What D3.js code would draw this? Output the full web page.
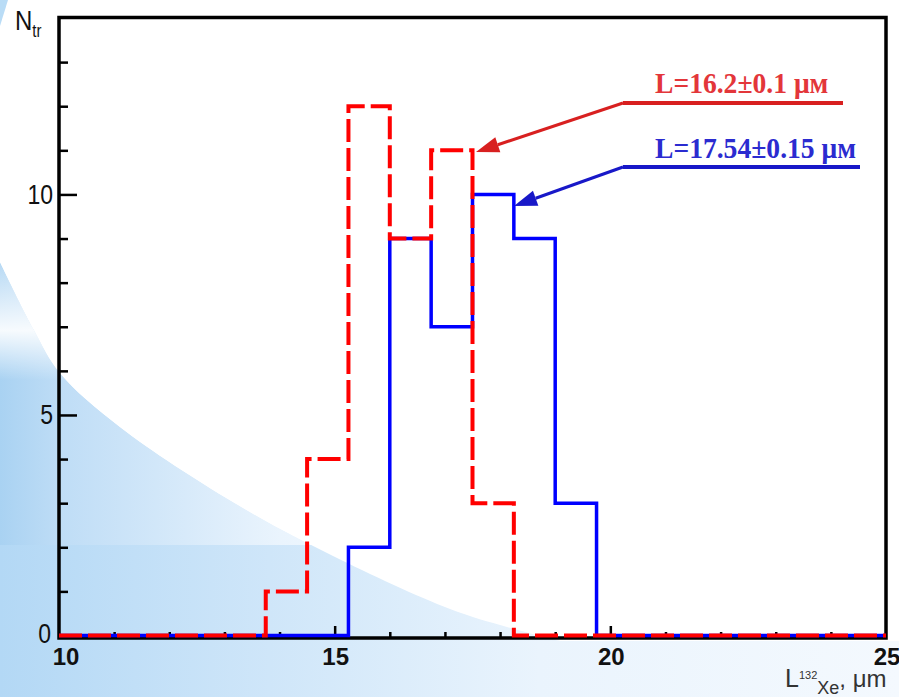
<!DOCTYPE html>
<html>
<head>
<meta charset="utf-8">
<script src="https://cdn.jsdelivr.net/npm/d3@7"></script>
<style>
  body { margin: 0; background: #fff; }
  svg { display: block; }
</style>
</head>
<body>
<svg id="chart"></svg>
<script>
const width = 899;
const height = 697;

// histogram binning: 20 bins of 0.75 um from 10 to 25
const binStart = 10;
const binWidth = 0.75;
const redCounts  = [0, 0, 0, 0, 0, 1, 4, 12, 9, 11, 3, 0, 0, 0, 0, 0, 0, 0, 0, 0];
const blueCounts = [0, 0, 0, 0, 0, 0, 0, 2, 9, 7, 10, 9, 3, 0, 0, 0, 0, 0, 0, 0];

const xMajor = [10, 15, 20, 25];
const xMinor = [11, 12, 13, 14, 16, 17, 18, 19, 21, 22, 23, 24];
const yMajor = [0, 5, 10];
const yMinor = [1, 2, 3, 4, 6, 7, 8, 9, 11, 12, 13];

const redLabel = "L=16.2\u00b10.1 \u03bc\u043c";
const blueLabel = "L=17.54\u00b10.15 \u03bc\u043c";

const svg = d3.select("#chart")
    .attr("width", width)
    .attr("height", height);

const x = d3.scaleLinear().domain([10, 25]).range([59, 886]);
const y = d3.scaleLinear().domain([0, 14]).range([635.5, 18]);

// ---- slide background (light blue decoration) ----
const defs = svg.append("defs");

const g1 = defs.append("linearGradient").attr("id", "curveFill")
    .attr("gradientUnits", "userSpaceOnUse")
    .attr("x1", 0).attr("y1", 0).attr("x2", 560).attr("y2", 0);
g1.append("stop").attr("offset", 0).attr("stop-color", "#a9d2f2");
g1.append("stop").attr("offset", 0.11).attr("stop-color", "#bfddf6");
g1.append("stop").attr("offset", 0.5).attr("stop-color", "#eaf4fd");
g1.append("stop").attr("offset", 1).attr("stop-color", "#ffffff");

const g2 = defs.append("linearGradient").attr("id", "stripFill")
    .attr("gradientUnits", "userSpaceOnUse")
    .attr("x1", 0).attr("y1", 0).attr("x2", 899).attr("y2", 0);
g2.append("stop").attr("offset", 0).attr("stop-color", "#b3d8f5");
g2.append("stop").attr("offset", 0.3).attr("stop-color", "#cfe6f9");
g2.append("stop").attr("offset", 0.6).attr("stop-color", "#eaf4fd");
g2.append("stop").attr("offset", 1).attr("stop-color", "#f4f9fe");

const g3 = defs.append("linearGradient").attr("id", "bandFill")
    .attr("gradientUnits", "userSpaceOnUse")
    .attr("x1", 0).attr("y1", 262).attr("x2", 0).attr("y2", 380);
g3.append("stop").attr("offset", 0).attr("stop-color", "#fff").attr("stop-opacity", 0.15);
g3.append("stop").attr("offset", 0.58).attr("stop-color", "#fff").attr("stop-opacity", 0.9);
g3.append("stop").attr("offset", 1).attr("stop-color", "#fff").attr("stop-opacity", 0);

const arcPts = [[0, 262], [34, 330], [60, 373], [120, 427], [233, 502],
    [333, 556], [450, 609], [507, 627], [560, 641]];
const arcLine = d3.line().curve(d3.curveCatmullRom)(arcPts);

defs.append("clipPath").attr("id", "underArc")
    .append("path").attr("d", arcLine + "L560,697L0,697Z");

const bg = svg.append("g").attr("class", "background");
bg.append("rect").attr("width", width).attr("height", height).attr("fill", "#fff");
bg.append("path")
    .attr("d", arcLine + "L560,697L0,697Z")
    .attr("fill", "url(#curveFill)");
bg.append("rect")
    .attr("x", 0).attr("y", 545).attr("width", width).attr("height", height - 545)
    .attr("fill", "url(#stripFill)");
bg.append("path")
    .attr("d", arcLine + "L899,641L899,0L0,0Z")
    .attr("fill", "#fff");
bg.append("rect")
    .attr("x", 0).attr("y", 262).attr("width", 80).attr("height", 118)
    .attr("clip-path", "url(#underArc)")
    .attr("fill", "url(#bandFill)");
bg.append("path").attr("d", "M0,0L8,0L0,26Z").attr("fill", "#b9dcf6");

// ---- frame and axes ----
svg.append("rect")
    .attr("x", 59).attr("y", 17.5)
    .attr("width", 827).attr("height", 620.5)
    .attr("fill", "none").attr("stroke", "#000").attr("stroke-width", 3.5);

function styleAxis(g) {
    g.select(".domain").remove();
    g.selectAll(".tick line").attr("stroke", "#000").attr("stroke-width", 2.5);
}

svg.append("g").attr("transform", "translate(59,0)")
    .call(d3.axisRight(y).tickValues(yMinor).tickSize(9).tickFormat(""))
    .call(styleAxis);
svg.append("g").attr("transform", "translate(59,0)")
    .call(d3.axisRight(y).tickValues(yMajor.slice(1)).tickSize(18).tickFormat(""))
    .call(styleAxis);
svg.append("g").attr("transform", "translate(0,638)")
    .call(d3.axisTop(x).tickValues(xMinor).tickSize(6).tickFormat(""))
    .call(styleAxis);
svg.append("g").attr("transform", "translate(0,638)")
    .call(d3.axisTop(x).tickValues(xMajor.slice(1, 3)).tickSize(12).tickFormat(""))
    .call(styleAxis);

// tick labels
svg.append("g").selectAll("g")
    .data(yMajor)
    .join("g")
    .attr("transform", d => `translate(${d === 0 ? 51 : 53},${y(d) + (d === 0 ? 7.5 : 9.5)}) scale(1,1.2)`)
    .append("text")
    .attr("text-anchor", "end")
    .attr("font-family", "Liberation Sans, Arial, sans-serif")
    .attr("font-size", 23)
    .attr("fill", "#111")
    .text(d => d);

svg.append("g").selectAll("text")
    .data(xMajor)
    .join("text")
    .attr("x", d => x(d) + (d === 10 ? 7 : 1))
    .attr("y", 665)
    .attr("text-anchor", "middle")
    .attr("font-family", "Liberation Sans, Arial, sans-serif")
    .attr("font-size", 24)
    .attr("font-weight", "bold")
    .attr("fill", "#111")
    .text(d => d);

// axis titles
const yTitle = svg.append("g").attr("transform", "translate(15,30) scale(1,1.17)")
    .append("text")
    .attr("font-family", "Liberation Sans, Arial, sans-serif")
    .attr("fill", "#111");
yTitle.append("tspan").attr("font-size", 24).text("N");
yTitle.append("tspan").attr("font-size", 15).attr("dy", 6).text("tr");

const xTitle = svg.append("text")
    .attr("x", 785).attr("y", 687)
    .attr("font-family", "Liberation Sans, Arial, sans-serif")
    .attr("fill", "#333");
xTitle.append("tspan").attr("font-size", 25).text("L");
xTitle.append("tspan").attr("font-size", 11).attr("dy", -8).text("132");
xTitle.append("tspan").attr("font-size", 18).attr("dy", 15).text("Xe");
xTitle.append("tspan").attr("font-size", 24).attr("dy", -7).text(", \u03bcm");

// ---- histograms ----
function stepPoints(counts) {
    const pts = [];
    counts.forEach((c, i) => {
        const x0 = binStart + i * binWidth;
        pts.push([x0, c], [x0 + binWidth, c]);
    });
    return pts;
}
const histLine = d3.line().x(d => x(d[0])).y(d => y(d[1]));

svg.append("path")
    .attr("d", histLine(stepPoints(blueCounts)))
    .attr("fill", "none")
    .attr("stroke", "#0000ff")
    .attr("stroke-width", 3.5);

svg.append("path")
    .attr("d", histLine(stepPoints(redCounts)))
    .attr("fill", "none")
    .attr("stroke", "#ff0000")
    .attr("stroke-width", 4)
    .attr("stroke-dasharray", "23,6");

// ---- annotations ----
function callout(label, color, lineColor, ly, x2, tip, textY) {
    const g = svg.append("g");
    const dx = tip[0] - 623, dy = tip[1] - ly;
    const len = Math.hypot(dx, dy);
    const ux = dx / len, uy = dy / len;
    const hl = 23, hw = 8;
    const bx = tip[0] - ux * hl, by = tip[1] - uy * hl;
    g.append("line")
        .attr("x1", 623).attr("y1", ly).attr("x2", x2).attr("y2", ly)
        .attr("stroke", lineColor).attr("stroke-width", 4);
    g.append("line")
        .attr("x1", 623).attr("y1", ly).attr("x2", bx).attr("y2", by)
        .attr("stroke", lineColor).attr("stroke-width", 3);
    g.append("path")
        .attr("d", `M${tip[0]},${tip[1]}L${bx - uy * hw},${by + ux * hw}L${bx + uy * hw},${by - ux * hw}Z`)
        .attr("fill", lineColor);
    g.append("g")
        .attr("transform", `translate(655,${textY}) scale(1,1.09)`)
        .append("text")
        .attr("font-family", "Liberation Serif, Times New Roman, serif")
        .attr("font-weight", "bold")
        .attr("font-size", 27.6)
        .attr("fill", color)
        .text(label);
}

callout(redLabel, "#e3363a", "#d82020", 103, 843, [476, 152], 93);
callout(blueLabel, "#2b2bd0", "#1818c8", 167, 860, [514, 206], 158);
</script>
</body>
</html>
